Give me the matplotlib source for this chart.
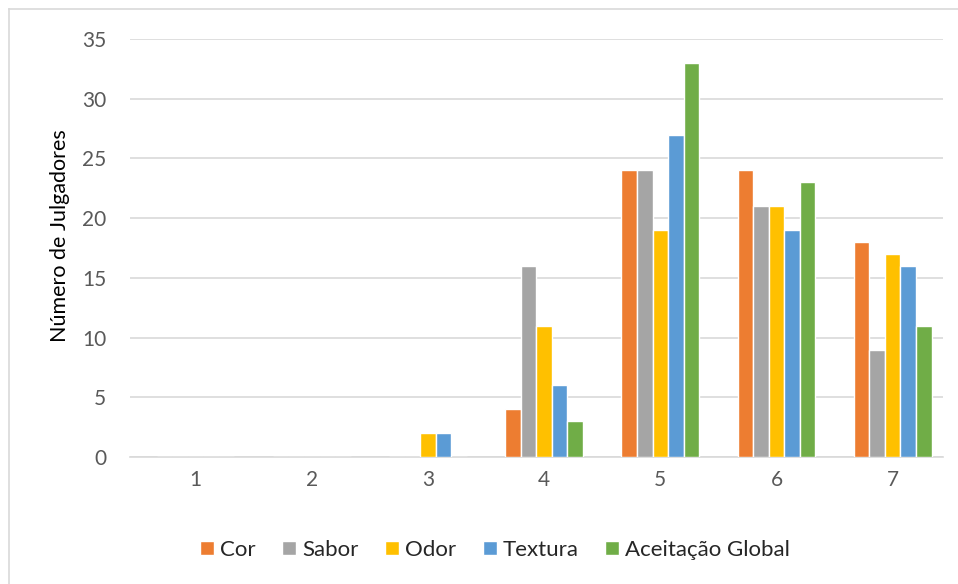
import matplotlib
matplotlib.use("Agg")
import matplotlib.pyplot as plt
from matplotlib.lines import Line2D
import numpy as np

plt.rcParams['font.family'] = ['Lato', 'DejaVu Sans']

categories = ["1", "2", "3", "4", "5", "6", "7"]
series_names = ["Cor", "Sabor", "Odor", "Textura", "Aceitação Global"]
cor = [0, 0, 0, 4, 24, 24, 18]
sabor = [0, 0, 0, 16, 24, 21, 9]
odor = [0, 0, 2, 11, 19, 21, 17]
textura = [0, 0, 2, 6, 27, 19, 16]
aceitacao = [0, 0, 0, 3, 33, 23, 11]
colors = ["#ED7D31", "#A5A5A5", "#FFC000", "#5B9BD5", "#70AD47"]

W, H = 958, 584
fig = plt.figure(figsize=(W / 100, H / 100), dpi=100)
ax = fig.add_axes([130 / W, 1 - 457 / H, (943 - 130) / W, (457 - 39) / H])

x = np.arange(len(categories))
bw = 0.134
all_series = [cor, sabor, odor, textura, aceitacao]
handles = []
for i, (name, vals, c) in enumerate(zip(series_names, all_series, colors)):
    b = ax.bar(x + (i - 2) * bw, vals, width=bw, color=c, edgecolor="white",
               linewidth=1.0, label=name, zorder=3)
    handles.append(b)

ax.set_ylim(0, 35)
ax.set_yticks(np.arange(0, 36, 5))
ax.set_xlim(-0.564, 6.433)
ax.set_xticks(x)
ax.set_xticklabels(categories)

ax.grid(axis="y", color="#D9D9D9", linewidth=1.2, zorder=0)
for s in ["top", "right", "left"]:
    ax.spines[s].set_visible(False)
ax.spines["bottom"].set_color("#D9D9D9")
ax.spines["bottom"].set_linewidth(1.2)
ax.tick_params(axis="both", length=0, labelsize=15, labelcolor="#595959")
ax.tick_params(axis="x", pad=9)
ax.tick_params(axis="y", pad=17)

fig.text(60 / W, 1 - 236 / H, "Número de Julgadores", rotation=90,
         ha="center", va="center", fontsize=15.5, color="#000000")

leg = fig.legend(handles=handles, labels=series_names, loc="center",
                 bbox_to_anchor=(495 / W, 1 - 550 / H), ncol=5, frameon=False,
                 fontsize=16, handlelength=0.63, handleheight=0.63,
                 handletextpad=0.27, columnspacing=1.2)
for t in leg.get_texts():
    t.set_color("#262626")

# chart-area frame along the left and top edges
fig.add_artist(Line2D([9 / W, 9 / W], [0, 1 - 9 / H], color="#D9D9D9",
                      linewidth=1.2, transform=fig.transFigure))
fig.add_artist(Line2D([9 / W, 1], [1 - 9 / H, 1 - 9 / H], color="#D9D9D9",
                      linewidth=1.2, transform=fig.transFigure))

fig.savefig("out.png", dpi=100, facecolor="white")
